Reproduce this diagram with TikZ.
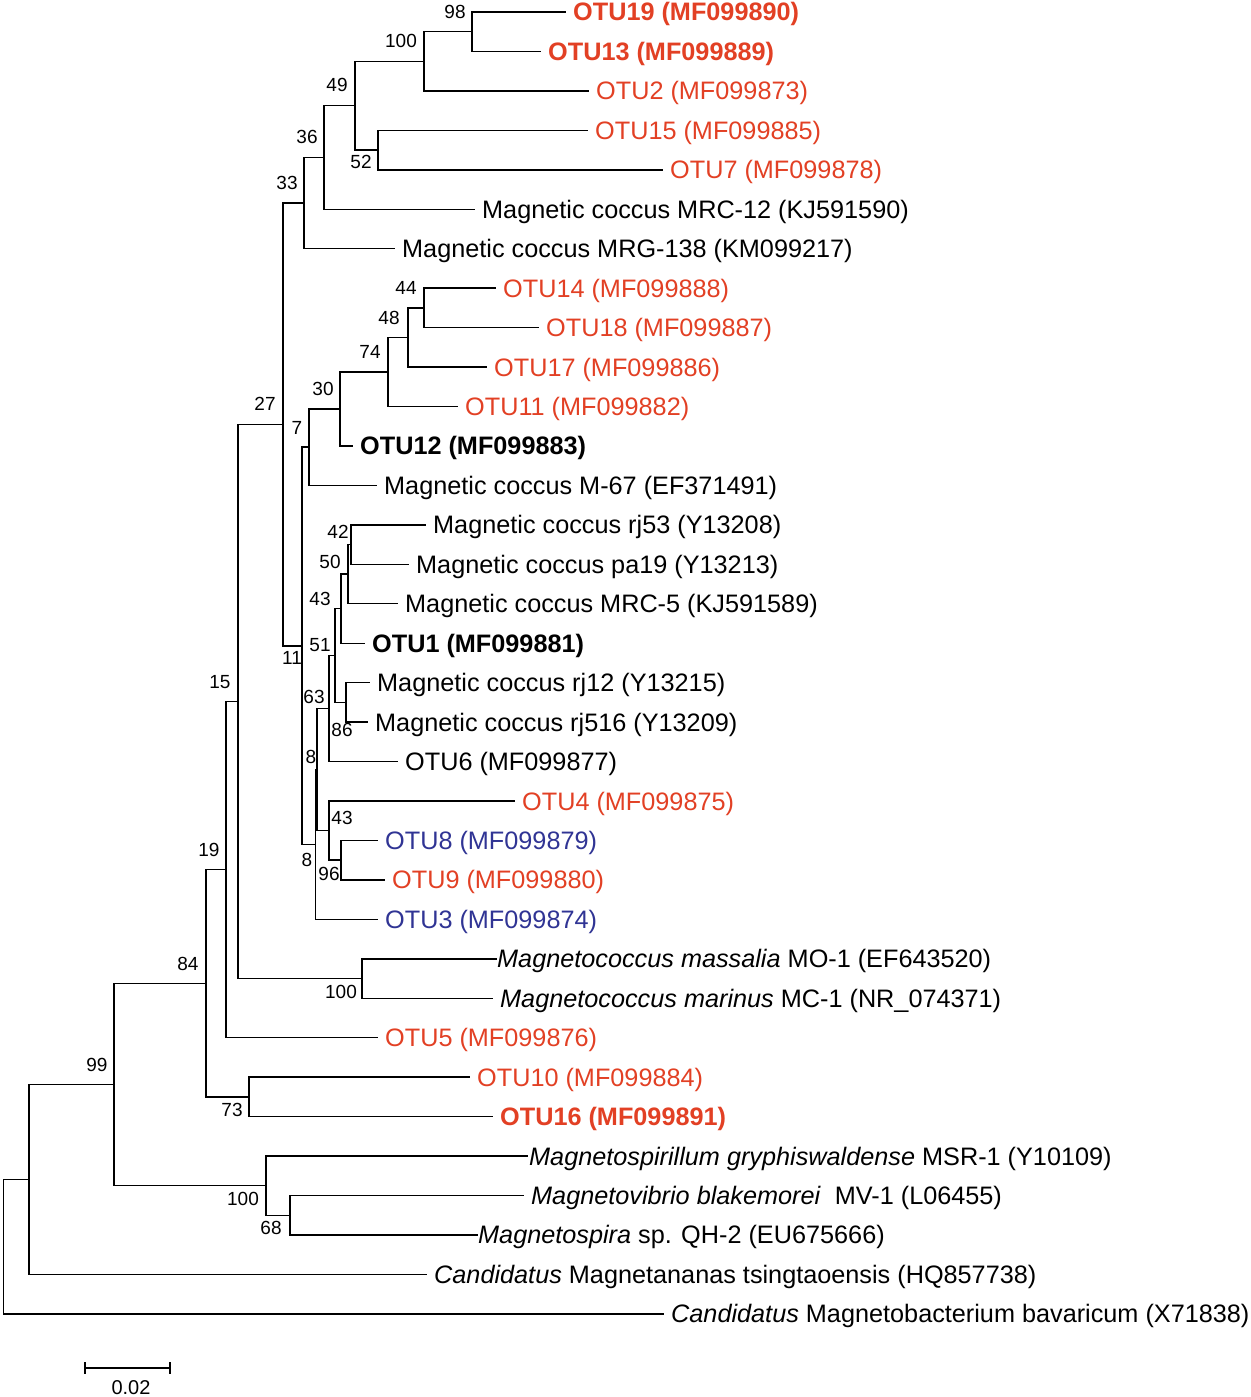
\documentclass[tikz,border=0pt]{standalone}
\usepackage{fontspec}
\setmainfont{Liberation Sans}
\definecolor{otured}{RGB}{226,64,36}
\definecolor{otublue}{RGB}{48,52,148}
\begin{document}
\begin{tikzpicture}[x=1pt,y=-1pt,
  branch/.style={line width=1.4pt,line cap=rect},
  leaf/.style={anchor=base west,inner sep=0pt,font=\fontsize{25.25}{30}\selectfont},
  red/.style={text=otured},
  blue/.style={text=otublue},
  bs/.style={anchor=base,inner sep=0pt,font=\fontsize{19}{22}\selectfont}]
\useasboundingbox (0,0) rectangle (1250,1397);
% leaf ends
\coordinate (e1) at (565,12);
\coordinate (e2) at (540,51.45);
\coordinate (e3) at (588,90.9);
\coordinate (e4) at (587,130.35);
\coordinate (e5) at (662,169.8);
\coordinate (e6) at (474,209.25);
\coordinate (e7) at (394,248.7);
\coordinate (e8) at (495,288.15);
\coordinate (e9) at (538,327.6);
\coordinate (e10) at (486,367.05);
\coordinate (e11) at (457,406.5);
\coordinate (e12) at (352,445.95);
\coordinate (e13) at (376,485.4);
\coordinate (e14) at (425,524.85);
\coordinate (e15) at (408,564.3);
\coordinate (e16) at (397,603.75);
\coordinate (e17) at (364,643.2);
\coordinate (e18) at (369,682.65);
\coordinate (e19) at (367,722.1);
\coordinate (e20) at (397,761.55);
\coordinate (e21) at (514,801);
\coordinate (e22) at (377,840.45);
\coordinate (e23) at (384,879.9);
\coordinate (e24) at (377,919.35);
\coordinate (e25) at (496,958.8);
\coordinate (e26) at (492,998.25);
\coordinate (e27) at (377,1037.7);
\coordinate (e28) at (469,1077.15);
\coordinate (e29) at (492,1116.6);
\coordinate (e30) at (527,1156.05);
\coordinate (e31) at (523,1195.5);
\coordinate (e32) at (477,1234.95);
\coordinate (e33) at (426,1274.4);
\coordinate (e34) at (663,1313.85);
% internal nodes
\coordinate (n98) at (472,31.73);
\coordinate (n100a) at (424,61.31);
\coordinate (n52) at (378,150.08);
\coordinate (n49) at (355,105.69);
\coordinate (n36) at (324,157.47);
\coordinate (n33) at (304,203.09);
\coordinate (n44) at (424,307.88);
\coordinate (n48) at (408,337.46);
\coordinate (n74) at (388,371.98);
\coordinate (n30) at (340,408.97);
\coordinate (n7) at (309,447.18);
\coordinate (n42) at (351,544.58);
\coordinate (n50) at (348,574.16);
\coordinate (n43a) at (341,608.68);
\coordinate (n86) at (346,702.38);
\coordinate (n51) at (335,655.53);
\coordinate (n63) at (329,708.54);
\coordinate (n96) at (341,860.18);
\coordinate (n43b) at (329,830.59);
\coordinate (n8a) at (317,769.57);
\coordinate (n8b) at (315.5,844.46);
\coordinate (n11) at (302,645.82);
\coordinate (n27) at (283,424.46);
\coordinate (n100m) at (362,978.53);
\coordinate (n15) at (238,701.5);
\coordinate (n19) at (226,869.6);
\coordinate (n73) at (249,1096.88);
\coordinate (n84) at (206,983.24);
\coordinate (n68) at (290,1215.23);
\coordinate (n100b) at (266,1185.64);
\coordinate (n99) at (114,1084.44);
\coordinate (nA) at (29,1179.42);
\coordinate (root) at (3.5,1246.6);
% branches
\draw[branch] (n98) |- (e1) (n98) |- (e2);
\draw[branch] (n100a) |- (n98) (n100a) |- (e3);
\draw[branch] (n52) |- (e4) (n52) |- (e5);
\draw[branch] (n49) |- (n100a) (n49) |- (n52);
\draw[branch] (n36) |- (n49) (n36) |- (e6);
\draw[branch] (n33) |- (n36) (n33) |- (e7);
\draw[branch] (n44) |- (e8) (n44) |- (e9);
\draw[branch] (n48) |- (n44) (n48) |- (e10);
\draw[branch] (n74) |- (n48) (n74) |- (e11);
\draw[branch] (n30) |- (n74) (n30) |- (e12);
\draw[branch] (n7) |- (n30) (n7) |- (e13);
\draw[branch] (n42) |- (e14) (n42) |- (e15);
\draw[branch] (n50) |- (n42) (n50) |- (e16);
\draw[branch] (n43a) |- (n50) (n43a) |- (e17);
\draw[branch] (n86) |- (e18) (n86) |- (e19);
\draw[branch] (n51) |- (n43a) (n51) |- (n86);
\draw[branch] (n63) |- (n51) (n63) |- (e20);
\draw[branch] (n96) |- (e22) (n96) |- (e23);
\draw[branch] (n43b) |- (e21) (n43b) |- (n96);
\draw[branch] (n8a) |- (n63) (n8a) |- (n43b);
\draw[branch] (n8b) |- (n8a) (n8b) |- (e24);
\draw[branch] (n11) |- (n7) (n11) |- (n8b);
\draw[branch] (n27) |- (n33) (n27) |- (n11);
\draw[branch] (n100m) |- (e25) (n100m) |- (e26);
\draw[branch] (n15) |- (n27) (n15) |- (n100m);
\draw[branch] (n19) |- (n15) (n19) |- (e27);
\draw[branch] (n73) |- (e28) (n73) |- (e29);
\draw[branch] (n84) |- (n19) (n84) |- (n73);
\draw[branch] (n68) |- (e31) (n68) |- (e32);
\draw[branch] (n100b) |- (e30) (n100b) |- (n68);
\draw[branch] (n99) |- (n84) (n99) |- (n100b);
\draw[branch] (nA) |- (n99) (nA) |- (e33);
\draw[branch] (root) |- (nA) (root) |- (e34);
% leaf labels
\node[leaf,red] (L1) at (573,21) {\textbf{OTU19 (MF099890)}};
\node[leaf,red] (L2) at (548,60.45) {\textbf{OTU13 (MF099889)}};
\node[leaf,red] (L3) at (596,99.9) {OTU2 (MF099873)};
\node[leaf,red] (L4) at (595,139.35) {OTU15 (MF099885)};
\node[leaf,red] (L5) at (670,178.8) {OTU7 (MF099878)};
\node[leaf] (L6) at (482,218.25) {Magnetic coccus MRC-12 (KJ591590)};
\node[leaf] (L7) at (402,257.7) {Magnetic coccus MRG-138 (KM099217)};
\node[leaf,red] (L8) at (503,297.15) {OTU14 (MF099888)};
\node[leaf,red] (L9) at (546,336.6) {OTU18 (MF099887)};
\node[leaf,red] (L10) at (494,376.05) {OTU17 (MF099886)};
\node[leaf,red] (L11) at (465,415.5) {OTU11 (MF099882)};
\node[leaf] (L12) at (360,454.95) {\textbf{OTU12 (MF099883)}};
\node[leaf] (L13) at (384,494.4) {Magnetic coccus M-67 (EF371491)};
\node[leaf] (L14) at (433,533.85) {Magnetic coccus rj53 (Y13208)};
\node[leaf] (L15) at (416,573.3) {Magnetic coccus pa19 (Y13213)};
\node[leaf] (L16) at (405,612.75) {Magnetic coccus MRC-5 (KJ591589)};
\node[leaf] (L17) at (372,652.2) {\textbf{OTU1 (MF099881)}};
\node[leaf] (L18) at (377,691.65) {Magnetic coccus rj12 (Y13215)};
\node[leaf] (L19) at (375,731.1) {Magnetic coccus rj516 (Y13209)};
\node[leaf] (L20) at (405,770.55) {OTU6 (MF099877)};
\node[leaf,red] (L21) at (522,810) {OTU4 (MF099875)};
\node[leaf,blue] (L22) at (385,849.45) {OTU8 (MF099879)};
\node[leaf,red] (L23) at (392,888.9) {OTU9 (MF099880)};
\node[leaf,blue] (L24) at (385,928.35) {OTU3 (MF099874)};
\node[leaf] (L25) at (497,967.8) {\textit{Magnetococcus massalia} MO-1 (EF643520)};
\node[leaf] (L26) at (500,1007.25) {\textit{Magnetococcus marinus} MC-1 (NR\_074371)};
\node[leaf,red] (L27) at (385,1046.7) {OTU5 (MF099876)};
\node[leaf,red] (L28) at (477,1086.15) {OTU10 (MF099884)};
\node[leaf,red] (L29) at (500,1125.6) {\textbf{OTU16 (MF099891)}};
\node[leaf] (L30) at (529,1165.05) {\textit{Magnetospirillum gryphiswaldense} MSR-1 (Y10109)};
\node[leaf] (L31) at (531,1204.5) {\textit{Magnetovibrio blakemorei}\ \ MV-1 (L06455)};
\node[leaf] (L32) at (478,1243.95) {\textit{Magnetospira} sp. QH-2 (EU675666)};
\node[leaf] (L33) at (434,1283.4) {\textit{Candidatus} Magnetananas tsingtaoensis (HQ857738)};
\node[leaf] (L34) at (671,1322.85) {\textit{Candidatus} Magnetobacterium bavaricum (X71838)};
% bootstrap values
\node[bs] (b98) at (455,18.8) {98};
\node[bs] (b100a) at (401,47.8) {100};
\node[bs] (b49) at (337,91.8) {49};
\node[bs] (b52) at (361,168.8) {52};
\node[bs] (b36) at (307,143.8) {36};
\node[bs] (b33) at (287,189.8) {33};
\node[bs] (b44) at (406,294.8) {44};
\node[bs] (b48) at (389,324.8) {48};
\node[bs] (b74) at (370,358.8) {74};
\node[bs] (b30) at (323,395.8) {30};
\node[bs] (b7) at (297,434.8) {7};
\node[bs] (b27) at (265,410.8) {27};
\node[bs] (b42) at (338,538.8) {42};
\node[bs] (b50) at (330,568.8) {50};
\node[bs] (b43a) at (320,605.8) {43};
\node[bs] (b51) at (320,651.8) {51};
\node[bs] (b11) at (292,664.8) {11};
\node[bs] (b63) at (314,703.8) {63};
\node[bs] (b86) at (342,736.8) {86};
\node[bs] (b8a) at (311,763.8) {8};
\node[bs] (b43b) at (342,824.8) {43};
\node[bs] (b8b) at (307,866.8) {8};
\node[bs] (b96) at (329,880.8) {96};
\node[bs] (b100m) at (341,998.8) {100};
\node[bs] (b15) at (220,688.8) {15};
\node[bs] (b19) at (209,856.8) {19};
\node[bs] (b84) at (188,970.8) {84};
\node[bs] (b99) at (97,1071.8) {99};
\node[bs] (b73) at (232,1116.8) {73};
\node[bs] (b100b) at (243,1205.8) {100};
\node[bs] (b68) at (271,1234.8) {68};
% scale bar
\coordinate (s1) at (85,1368);
\coordinate (s2) at (170,1368);
\draw[branch,line cap=butt] (s1) -- (s2);
\draw[branch,line cap=butt] ([yshift=6]s1) -- ([yshift=-6]s1);
\draw[branch,line cap=butt] ([yshift=6]s2) -- ([yshift=-6]s2);
\node[bs,font=\fontsize{20}{24}\selectfont] (sbl) at (131,1394) {0.02};
\end{tikzpicture}
\end{document}
